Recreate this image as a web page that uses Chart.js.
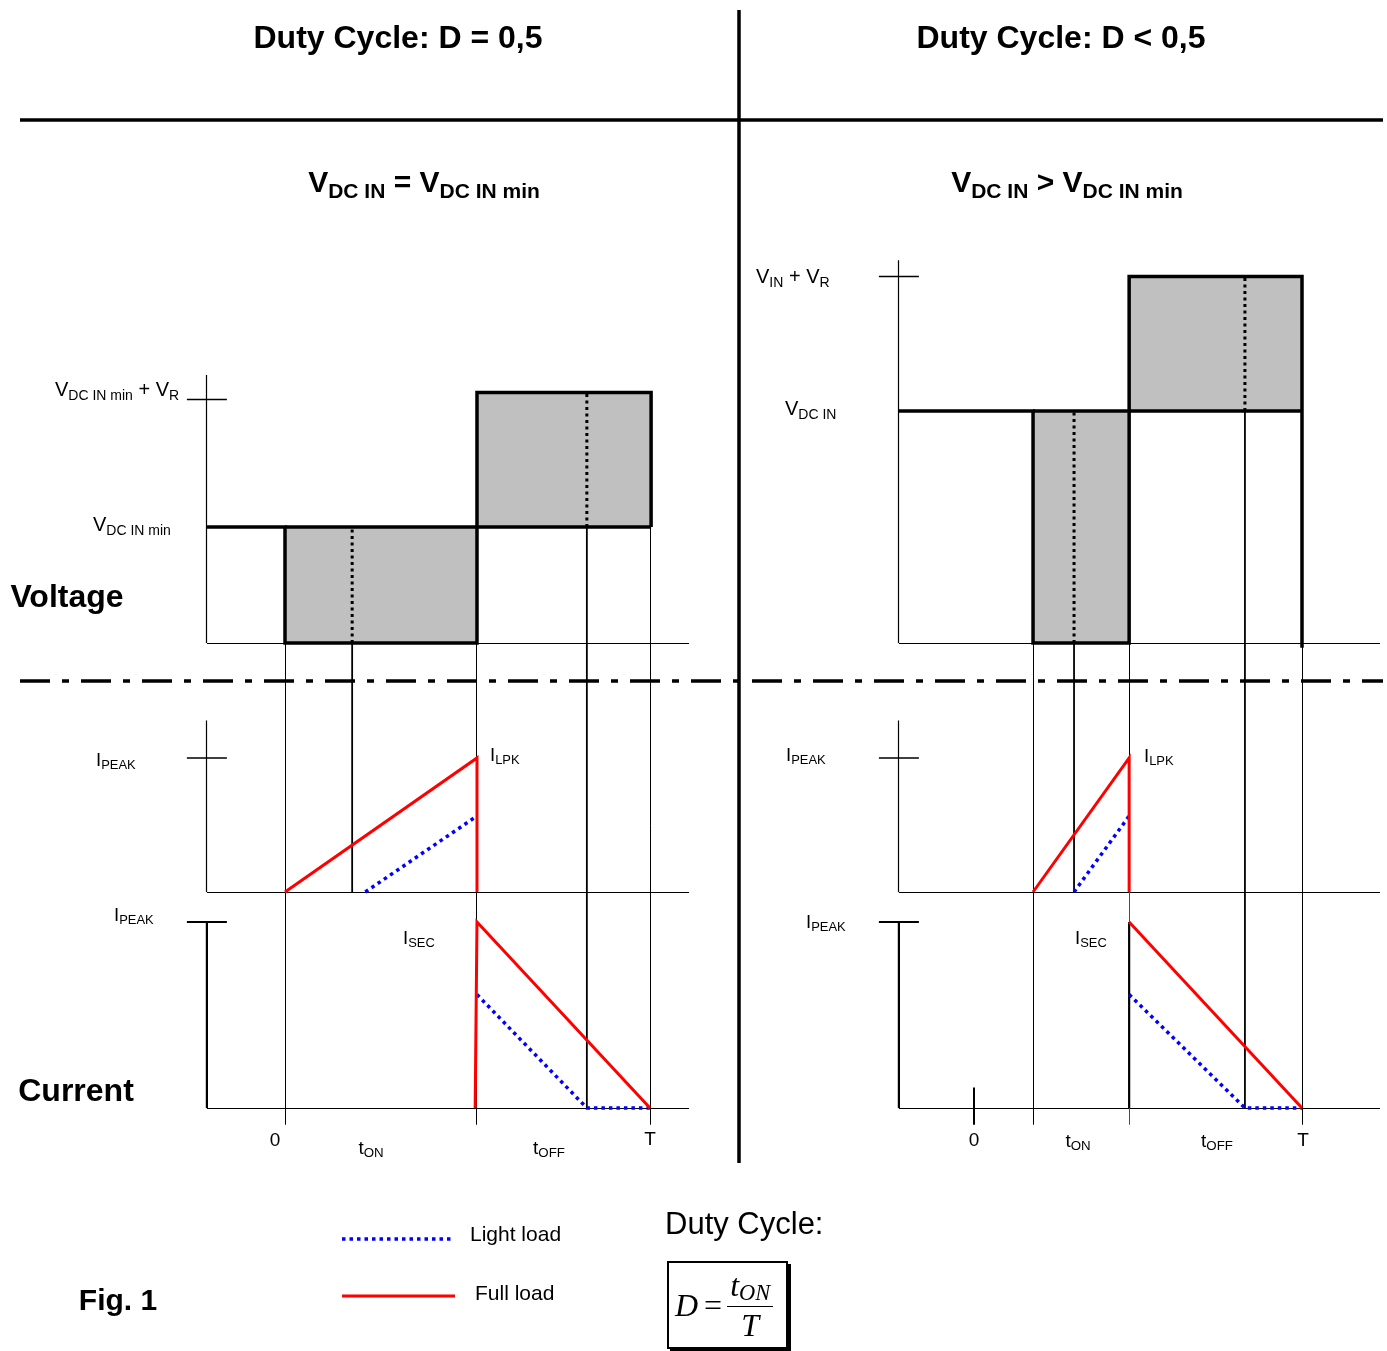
<!DOCTYPE html>
<html>
<head>
<meta charset="utf-8">
<script src="https://cdn.jsdelivr.net/npm/chart.js@4.4.1/dist/chart.umd.min.js"></script>
<style>
body { margin: 0; background: #fff; }
#page { position: relative; width: 1387px; height: 1351px; font-family: "Liberation Sans", Arial, sans-serif; color: #000; }
#page canvas { position: absolute; left: 0; top: 0; }
.lbl { position: absolute; white-space: nowrap; line-height: 1; }
.lbl sub { font-size: 0.7em; vertical-align: -0.28em; line-height: 0; }
#formula { position: absolute; left: 667px; top: 1261px; width: 121px; height: 88px; box-sizing: border-box;
  border: 2px solid #000; box-shadow: 3px 3px 0 #000; display: flex; align-items: center; padding-left: 6px;
  font-family: "Liberation Serif", "Times New Roman", serif; font-style: italic; font-size: 32px; }
#formula .eq { font-style: normal; margin: 0 5px 0 6px; }
#formula .frac { display: inline-flex; flex-direction: column; align-items: center; line-height: 1; }
#formula .num { border-bottom: 1.5px solid #000; padding: 0 3px 1px 3px; }
#formula .num sub { font-size: 0.7em; vertical-align: -0.2em; }
#formula .den { padding-top: 2px; }
</style>
</head>
<body>
<div id="page">
  <canvas id="diagram" width="1387" height="1351"></canvas>
  <div id="formula"><span>D</span><span class="eq">=</span><span class="frac"><span class="num">t<sub>ON</sub></span><span class="den">T</span></span></div>
</div>
<script>
// one switching period = 10 time units, currents relative to I_PEAK, voltages relative to V_DC IN min
const periodT = 10;

// switching instants: on start, light-load on start, switch off, light-load end, T
const leftEvents = [0, 1.84, 5.26, 8.27, 10];
const rightEvents = [1.80, 3.05, 4.73, 8.26, 10];

// drain voltage
const leftVoltT = [-2.14, 0, 0, 5.26, 5.26, 10.03, 10.03];
const leftVoltV = [1, 1, 0, 0, 2.16, 2.16, 1];
const rightVoltT = [-2.29, 1.80, 1.80, 4.73, 4.73, 10, 10];
const rightVoltV = [2, 2, 0, 0, 3.16, 3.16, -0.04];
const voltLevels = [1, 2];        // V_DC IN min (left), V_DC IN (right)
const voltTops = [2.16, 3.16];    // level + V_R
const voltTicks = [2.10, 3.16];   // tick marks on the voltage axes

// primary current
const leftPriFullT = [0, 5.26, 5.26];
const leftPriFullI = [0, 1, 0];
const leftPriLightT = [2.2, 5.26];
const leftPriLightI = [0, 0.567];
const rightPriFullT = [1.80, 4.73, 4.73];
const rightPriFullI = [0, 1, 0];
const rightPriLightT = [3.05, 4.73];
const rightPriLightI = [0, 0.567];

// secondary current
const leftSecFullT = [5.21, 5.26, 10];
const leftSecFullI = [0, 1, 0];
const leftSecLightT = [5.26, 8.27, 10];
const leftSecLightI = [0.61, 0, 0];
const rightSecFullT = [4.73, 10];
const rightSecFullI = [1, 0];
const rightSecLightT = [4.73, 8.26, 10];
const rightSecLightI = [0.61, 0, 0];

// ---- layout: where the scales sit on the page (value, pixel, value, pixel)
const W = 1387, H = 1351;
const anchors = {
  xL: [0, 285, periodT, 650],
  xR: [0, 974, periodT, 1302],
  yV: [0, 643, 1, 527],
  yP: [0, 892, 1, 758],
  yS: [0, 1108, 1, 922]
};

function hSpan(v0, p0, v1, p1, size) {
  const k = (p1 - p0) / (v1 - v0);
  const min = v0 - p0 / k;
  return { min: min, max: min + size / k };
}
function vSpan(v0, p0, v1, p1, size) {
  const k = (p0 - p1) / (v1 - v0);
  const max = v0 + p0 / k;
  return { min: max - size / k, max: max };
}

const scales = {};
['xL', 'xR'].forEach(function (id) {
  scales[id] = Object.assign({ type: 'linear', axis: 'x', position: 'bottom', display: false, bounds: 'data' },
    hSpan(anchors[id][0], anchors[id][1], anchors[id][2], anchors[id][3], W));
});
['yV', 'yP', 'yS'].forEach(function (id) {
  scales[id] = Object.assign({ type: 'linear', axis: 'y', position: 'left', display: false, bounds: 'data' },
    vSpan(anchors[id][0], anchors[id][1], anchors[id][2], anchors[id][3], H));
});

function pts(ts, vs) {
  return ts.map(function (t, i) { return { x: t, y: vs[i] }; });
}
function series(x, y, data, style) {
  return Object.assign({
    xAxisID: x, yAxisID: y, data: data, pointRadius: 0, borderWidth: 3,
    borderColor: '#000', fill: false, tension: 0, spanGaps: false, borderJoinStyle: 'miter'
  }, style);
}

const fullStyle = { borderColor: '#ff0000', borderWidth: 3 };
const lightStyle = { borderColor: '#0000ff', borderWidth: 3.5, borderDash: [3.5, 4] };
const markStyle = { borderColor: '#000', borderWidth: 3, borderDash: [3, 3.5] };
const levelStyle = { borderColor: '#000', borderWidth: 3.5 };

const datasets = [
  // dotted markers inside the voltage boxes
  series('xL', 'yV', [{ x: leftEvents[1], y: 0 }, { x: leftEvents[1], y: voltLevels[0] }, { x: leftEvents[1], y: null },
    { x: leftEvents[3], y: voltLevels[0] }, { x: leftEvents[3], y: voltTops[0] }], markStyle),
  series('xR', 'yV', [{ x: rightEvents[1], y: 0 }, { x: rightEvents[1], y: voltLevels[1] }, { x: rightEvents[1], y: null },
    { x: rightEvents[3], y: voltLevels[1] }, { x: rightEvents[3], y: voltTops[1] }], markStyle),
  // full load
  series('xL', 'yP', pts(leftPriFullT, leftPriFullI), fullStyle),
  series('xL', 'yS', pts(leftSecFullT, leftSecFullI), fullStyle),
  series('xR', 'yP', pts(rightPriFullT, rightPriFullI), fullStyle),
  series('xR', 'yS', pts(rightSecFullT, rightSecFullI), fullStyle),
  // light load
  series('xL', 'yP', pts(leftPriLightT, leftPriLightI), lightStyle),
  series('xL', 'yS', pts(leftSecLightT, leftSecLightI), lightStyle),
  series('xR', 'yP', pts(rightPriLightT, rightPriLightI), lightStyle),
  series('xR', 'yS', pts(rightSecLightT, rightSecLightI), lightStyle),
  // input voltage level lines
  series('xL', 'yV', [{ x: leftVoltT[1], y: voltLevels[0] }, { x: leftVoltT[6], y: voltLevels[0] }], levelStyle),
  series('xR', 'yV', [{ x: rightVoltT[1], y: voltLevels[1] }, { x: rightVoltT[6], y: voltLevels[1] }], levelStyle),
  // drain voltage waveforms, shaded against the input level
  series('xL', 'yV', pts(leftVoltT, leftVoltV), Object.assign({ fill: { value: voltLevels[0] }, backgroundColor: '#c0c0c0' }, levelStyle)),
  series('xR', 'yV', pts(rightVoltT, rightVoltV), Object.assign({ fill: { value: voltLevels[1] }, backgroundColor: '#c0c0c0' }, levelStyle))
];

// panel axes per column
const columns = [
  { x: 'xL', axis: [-2.14, 11.07], voltTop: 2.31, voltTick: voltTicks[0] },
  { x: 'xR', axis: [-2.29, 12.38], voltTop: 3.30, voltTick: voltTicks[1] }
];
const guideBottom = -0.09;
const guides = [
  { x: 'xL', t: leftEvents[0], from: ['yV', 0], to: ['yS', guideBottom], w: 1 },
  { x: 'xL', t: leftEvents[1], from: ['yV', 0], to: ['yP', 0], w: 1.8 },
  { x: 'xL', t: leftEvents[2], from: ['yV', 0], to: ['yS', guideBottom], w: 1 },
  { x: 'xL', t: leftEvents[3], from: ['yV', voltLevels[0]], to: ['yS', 0], w: 1.8 },
  { x: 'xL', t: leftEvents[4], from: ['yV', voltLevels[0]], to: ['yS', guideBottom], w: 1 },
  { x: 'xR', t: rightEvents[0], from: ['yV', 0], to: ['yS', guideBottom], w: 1 },
  { x: 'xR', t: rightEvents[1], from: ['yV', 0], to: ['yP', 0], w: 1.8 },
  { x: 'xR', t: rightEvents[2], from: ['yV', 0], to: ['yP', 0], w: 1 },
  { x: 'xR', t: rightEvents[2], from: ['yP', 0], to: ['yS', guideBottom], w: 1, c: '#ff0000' },
  { x: 'xR', t: rightEvents[2], from: ['yS', 1], to: ['yS', 0], w: 2.2 },
  { x: 'xR', t: rightEvents[3], from: ['yV', voltLevels[1]], to: ['yS', 0], w: 1.8 },
  { x: 'xR', t: rightEvents[4], from: ['yV', 0], to: ['yS', guideBottom], w: 1 },
  { x: 'xR', t: 0, from: ['yS', 0.11], to: ['yS', guideBottom], w: 2 }
];

function drawLine(ctx, x0, y0, x1, y1, w, color, dash) {
  if (w <= 1.2) {
    if (x0 === x1) { x0 = x1 = Math.floor(x0) + 0.5; }
    if (y0 === y1) { y0 = y1 = Math.floor(y0) + 0.5; }
  }
  ctx.save();
  ctx.strokeStyle = color || '#000';
  ctx.lineWidth = w;
  ctx.setLineDash(dash || []);
  ctx.beginPath();
  ctx.moveTo(x0, y0);
  ctx.lineTo(x1, y1);
  ctx.stroke();
  ctx.restore();
}

const frame = {
  id: 'frame',
  beforeDatasetsDraw(chart) {
    const ctx = chart.ctx;
    const s = chart.scales;
    // page rules
    drawLine(ctx, 20, 120, 1383, 120, 3.5);
    drawLine(ctx, 739, 10, 739, 1163, 3.5);
    drawLine(ctx, 20, 681, 1383, 681, 3.5, '#000', [30, 12, 7, 12]);

    columns.forEach(function (col) {
      const xa = s[col.x];
      const xa0 = xa.getPixelForValue(col.axis[0]);
      const xa1 = xa.getPixelForValue(col.axis[1]);
      const panels = [
        { y: 'yV', top: col.voltTop, tick: col.voltTick, w: 1.2 },
        { y: 'yP', top: 1.28, tick: 1, w: 1.2 },
        { y: 'yS', top: 1, tick: 1, w: 2.2 }
      ];
      panels.forEach(function (p) {
        const ya = s[p.y];
        const y0 = ya.getPixelForValue(0);
        drawLine(ctx, xa0, ya.getPixelForValue(p.top), xa0, y0, p.w);
        drawLine(ctx, xa0, y0, xa1, y0, 1.2);
        const yt = ya.getPixelForValue(p.tick);
        drawLine(ctx, xa0 - 20, yt, xa0 + 20, yt, p.w === 1.2 ? 1.5 : 2.2);
      });
    });

    guides.forEach(function (g) {
      const x = s[g.x].getPixelForValue(g.t);
      drawLine(ctx, x, s[g.from[0]].getPixelForValue(g.from[1]), x, s[g.to[0]].getPixelForValue(g.to[1]), g.w, g.c);
    });
  },
  afterDatasetsDraw(chart) {
    // legend samples
    const ctx = chart.ctx;
    drawLine(ctx, 342, 1239, 453, 1239, lightStyle.borderWidth, lightStyle.borderColor, lightStyle.borderDash);
    drawLine(ctx, 342, 1296, 455, 1296, fullStyle.borderWidth, fullStyle.borderColor);
  }
};

new Chart(document.getElementById('diagram'), {
  type: 'line',
  data: { datasets: datasets },
  options: {
    responsive: false,
    animation: false,
    events: [],
    layout: { padding: 0 },
    scales: scales,
    plugins: { legend: { display: false }, tooltip: { enabled: false } }
  },
  plugins: [frame]
});

// text: [html, x, y, anchor, size, weight]
const labels = [
  ['Duty Cycle: D = 0,5', 398, 37, 'c', 32, 'bold'],
  ['Duty Cycle: D &lt; 0,5', 1061, 37, 'c', 32, 'bold'],
  ['V<sub>DC IN</sub> = V<sub>DC IN min</sub>', 424, 182, 'c', 30, 'bold'],
  ['V<sub>DC IN</sub> &gt; V<sub>DC IN min</sub>', 1067, 182, 'c', 30, 'bold'],
  ['Voltage', 67, 596, 'c', 32, 'bold'],
  ['Current', 76, 1090, 'c', 32, 'bold'],
  ['Fig. 1', 118, 1300, 'c', 30, 'bold'],
  ['V<sub>DC IN min</sub> + V<sub>R</sub>', 55, 389, 'l', 20, 'normal'],
  ['V<sub>DC IN min</sub>', 93, 524, 'l', 20, 'normal'],
  ['V<sub>IN</sub> + V<sub>R</sub>', 756, 276, 'l', 20, 'normal'],
  ['V<sub>DC IN</sub>', 785, 408, 'l', 20, 'normal'],
  ['I<sub>PEAK</sub>', 96, 760, 'l', 18.5, 'normal'],
  ['I<sub>PEAK</sub>', 114, 915, 'l', 18.5, 'normal'],
  ['I<sub>PEAK</sub>', 786, 755, 'l', 18.5, 'normal'],
  ['I<sub>PEAK</sub>', 806, 922, 'l', 18.5, 'normal'],
  ['I<sub>LPK</sub>', 490, 755, 'l', 18.5, 'normal'],
  ['I<sub>LPK</sub>', 1144, 756, 'l', 18.5, 'normal'],
  ['I<sub>SEC</sub>', 403, 938, 'l', 18.5, 'normal'],
  ['I<sub>SEC</sub>', 1075, 938, 'l', 18.5, 'normal'],
  ['0', 275, 1139, 'c', 19, 'normal'],
  ['0', 974, 1139, 'c', 19, 'normal'],
  ['t<sub>ON</sub>', 371, 1147, 'c', 19, 'normal'],
  ['t<sub>ON</sub>', 1078, 1140, 'c', 19, 'normal'],
  ['t<sub>OFF</sub>', 549, 1147, 'c', 19, 'normal'],
  ['t<sub>OFF</sub>', 1217, 1140, 'c', 19, 'normal'],
  ['T', 650, 1138, 'c', 19, 'normal'],
  ['T', 1303, 1139, 'c', 19, 'normal'],
  ['Light load', 470, 1233, 'l', 21, 'normal'],
  ['Full load', 475, 1292, 'l', 21, 'normal'],
  ['Duty Cycle:', 665, 1223, 'l', 31, 'normal']
];
const page = document.getElementById('page');
labels.forEach(function (l) {
  const d = document.createElement('div');
  d.className = 'lbl';
  d.innerHTML = l[0];
  d.style.left = l[1] + 'px';
  d.style.top = l[2] + 'px';
  d.style.fontSize = l[4] + 'px';
  d.style.fontWeight = l[5];
  d.style.transform = l[3] === 'c' ? 'translate(-50%, -50%)' : 'translate(0, -50%)';
  page.appendChild(d);
});
</script>
</body>
</html>
